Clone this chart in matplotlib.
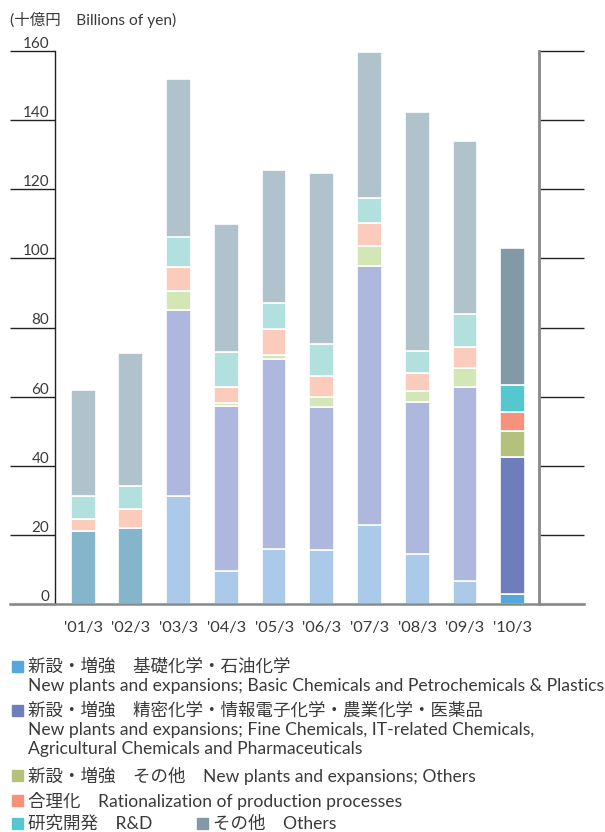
import matplotlib
matplotlib.use("Agg")
import matplotlib.pyplot as plt
from matplotlib.patches import Rectangle
import matplotlib.transforms as mtransforms

plt.rcParams['font.family'] = ['Lato', 'Noto Sans CJK JP', 'DejaVu Sans']

# ---- data (billions of yen) ----
years = ["'01/3", "'02/3", "'03/3", "'04/3", "'05/3", "'06/3", "'07/3", "'08/3", "'09/3", "'10/3"]
new_plants_total = [21.2, 22.0, 0, 0, 0, 0, 0, 0, 0, 0]   # not split for '01/3, '02/3
basic_chem = [0, 0, 31.4, 9.6, 15.9, 15.6, 22.9, 14.5, 6.7, 2.9]
fine_chem = [0, 0, 53.7, 47.6, 55.0, 41.3, 75.0, 44.0, 56.1, 39.7]
new_other = [0, 0, 5.5, 1.1, 1.2, 3.1, 5.6, 3.1, 5.6, 7.5]
rationalization = [3.5, 5.6, 6.8, 4.6, 7.4, 6.1, 6.8, 5.2, 6.0, 5.5]
rnd = [6.6, 6.7, 8.8, 9.9, 7.5, 9.2, 7.1, 6.5, 9.6, 7.7]
others = [30.5, 38.4, 45.5, 37.1, 38.5, 49.4, 42.1, 69.0, 50.0, 39.8]
yticks = [0, 20, 40, 60, 80, 100, 120, 140, 160]

legend_items = [
    ("新設・増強　基礎化学・石油化学", "New plants and expansions; Basic Chemicals and Petrochemicals & Plastics"),
    ("新設・増強　精密化学・情報電子化学・農業化学・医薬品",
     "New plants and expansions; Fine Chemicals, IT-related Chemicals,\nAgricultural Chemicals and Pharmaceuticals"),
    ("新設・増強　その他　New plants and expansions; Others", None),
    ("合理化　Rationalization of production processes", None),
    ("研究開発　R&D", None),
    ("その他　Others", None),
]

# ---- styles ----
faded = ['#ABC9E8', '#AEB7DD', '#D3E6B5', '#FBCBBB', '#B1E0DF', '#B0C3CC']
strong = ['#55A8DC', '#6E7EBD', '#B4C17C', '#F6917B', '#55C7CF', '#8399A5']
total_color = '#84B5CB'
txt = '#3a3a3a'

fig = plt.figure(figsize=(6.05, 8.32), dpi=100)
W, H = 605, 832
ax = fig.add_axes([55 / W, 1 - 604.3 / H, 484 / W, (604.3 - 50.7) / H])

x = list(range(len(years)))
bw = 0.52
series = [basic_chem, fine_chem, new_other, rationalization, rnd, others]
bottom = [0.0] * len(years)
ax.bar(x, new_plants_total, bw, bottom=bottom, color=total_color, edgecolor='white', linewidth=1.2)
bottom = [b + v for b, v in zip(bottom, new_plants_total)]
for si, s in enumerate(series):
    cols = [strong[si] if i == len(years) - 1 else faded[si] for i in x]
    ax.bar(x, s, bw, bottom=bottom, color=cols, edgecolor='white', linewidth=1.2)
    bottom = [b + v for b, v in zip(bottom, s)]

ax.set_xlim(-0.59, 9.55)
ax.set_ylim(0, 160)
ax.set_yticks(yticks)
ax.set_xticks([])
ax.tick_params(axis='y', left=True, right=True, length=32.4, width=1.0, color='#222222',
               labelleft=False, labelright=False, direction='out')
for sp in ['top', 'bottom']:
    ax.spines[sp].set_visible(False)
ax.spines['left'].set_color('#222222')
ax.spines['left'].set_linewidth(1.0)
ax.spines['right'].set_color('#888888')
ax.spines['right'].set_linewidth(2.0)

blend = mtransforms.blended_transform_factory(ax.transAxes, ax.transData)
for v in yticks:
    ax.text(-0.012, v, str(v), transform=blend, ha='right', va='bottom',
            fontsize=11, color=txt, clip_on=False)
ax.plot([-45 / 484, 1 + 45 / 484], [0, 0], transform=blend, color='#888888', lw=1.8,
        clip_on=False, zorder=5)
for i, lab in enumerate(years):
    ax.text(i, -6.85, lab, ha='center', va='center', fontsize=11.8, color=txt, clip_on=False)

fig.text(10 / W, 1 - 20 / H, "(十億円　Billions of yen)", ha='left', va='center',
         fontsize=11.2, color=txt)

# ---- legend ----
fs = 12.6
def square(xp, yc, color):
    fig.patches.append(Rectangle((xp / W, 1 - (yc + 5.5) / H), 11 / W, 11 / H,
                                 transform=fig.transFigure, color=color))

rows = [(666, 686), (710, 730), (775, None), (800, None), (823, None)]
for k in range(5):
    jp, en = legend_items[k]
    y1, y2 = rows[k]
    square(12, y1, strong[k])
    fig.text(28 / W, 1 - (y1 + 0.5) / H, jp, ha='left', va='center', fontsize=fs, color=txt)
    if en:
        fig.text(28 / W, 1 - (y2 - 7.5) / H, en, ha='left', va='top', fontsize=fs, color=txt,
                 linespacing=1.2)
square(197, 823, strong[5])
fig.text(213 / W, 1 - 823.5 / H, legend_items[5][0], ha='left', va='center', fontsize=fs, color=txt)

fig.savefig('out.png', dpi=100)
